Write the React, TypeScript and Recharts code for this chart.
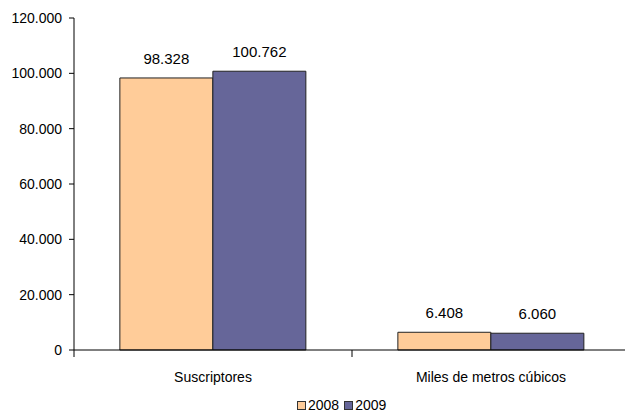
import React from "react";
import { BarChart, Bar, XAxis, YAxis, Legend, LabelList } from "recharts";

const categories = ["Suscriptores", "Miles de metros cúbicos"];
const values2008 = [98328, 6408];
const values2009 = [100762, 6060];
const yTicks = [0, 20000, 40000, 60000, 80000, 100000, 120000];
const seriesNames = ["2008", "2009"];
const seriesColors = ["#FFCC99", "#666699"];

const data = categories.map((c, i) => ({ name: c, s2008: values2008[i], s2009: values2009[i] }));

const fmt = (v: number) => String(Math.round(v)).replace(/\B(?=(\d{3})+(?!\d))/g, ".");

const FONT = "'Liberation Sans', Arial, sans-serif";

const XTick = (props: any) => {
  const { x, y, payload, index, visibleTicksCount } = props;
  const off = payload.offset || 0;
  const last = index === (visibleTicksCount ?? categories.length) - 1;
  return (
    <g>
      <line x1={x - off} x2={x - off} y1={y - 8} y2={y - 1} stroke="#000" />
      {last && <line x1={x + off} x2={x + off} y1={y - 8} y2={y - 1} stroke="#000" />}
      <text x={x} y={y + 24} textAnchor="middle" fontSize={14} fontFamily={FONT} fill="#000">
        {payload.value}
      </text>
    </g>
  );
};

const LegendContent = () => (
  <div style={{ display: "flex", justifyContent: "flex-start", alignItems: "center", height: 20, fontFamily: FONT, fontSize: 14, color: "#000", paddingLeft: 297 }}>
    {seriesNames.map((n, i) => (
      <span key={n} style={{ display: "inline-flex", alignItems: "center", marginRight: 5 }}>
        <span style={{ display: "inline-block", width: 7, height: 7, background: seriesColors[i], border: "1px solid #333", marginRight: 2 }} />
        {n}
      </span>
    ))}
  </div>
);

export default function App() {
  return (
    <div style={{ position: "absolute", left: 0, top: 0, width: 625, height: 415, overflow: "hidden", background: "#fff" }}>
      <BarChart
        width={631}
        height={415}
        data={data}
        margin={{ top: 18, right: 1, left: 0, bottom: 0 }}
        barCategoryGap="16.5%"
        barGap={0}
      >
        <YAxis
          width={74}
          domain={[0, 120000]}
          ticks={yTicks}
          tickFormatter={fmt}
          tickSize={5}
          tickMargin={7}
          axisLine={{ stroke: "#000" }}
          tickLine={{ stroke: "#000" }}
          tick={{ fontSize: 14, fontFamily: FONT, fill: "#000" }}
        />
        <XAxis
          dataKey="name"
          height={45}
          axisLine={{ stroke: "#000" }}
          tickLine={false}
          tick={<XTick />}
          interval={0}
        />
        <Legend verticalAlign="bottom" height={20} content={<LegendContent />} />
        <Bar dataKey="s2008" name={seriesNames[0]} fill={seriesColors[0]} stroke="#222" strokeWidth={1} isAnimationActive={false}>
          <LabelList dataKey="s2008" position="top" offset={14} formatter={(v: any) => fmt(v)} style={{ fontSize: 15, fontFamily: FONT, fill: "#000" }} />
        </Bar>
        <Bar dataKey="s2009" name={seriesNames[1]} fill={seriesColors[1]} stroke="#222" strokeWidth={1} isAnimationActive={false}>
          <LabelList dataKey="s2009" position="top" offset={14} formatter={(v: any) => fmt(v)} style={{ fontSize: 15, fontFamily: FONT, fill: "#000" }} />
        </Bar>
      </BarChart>
    </div>
  );
}
